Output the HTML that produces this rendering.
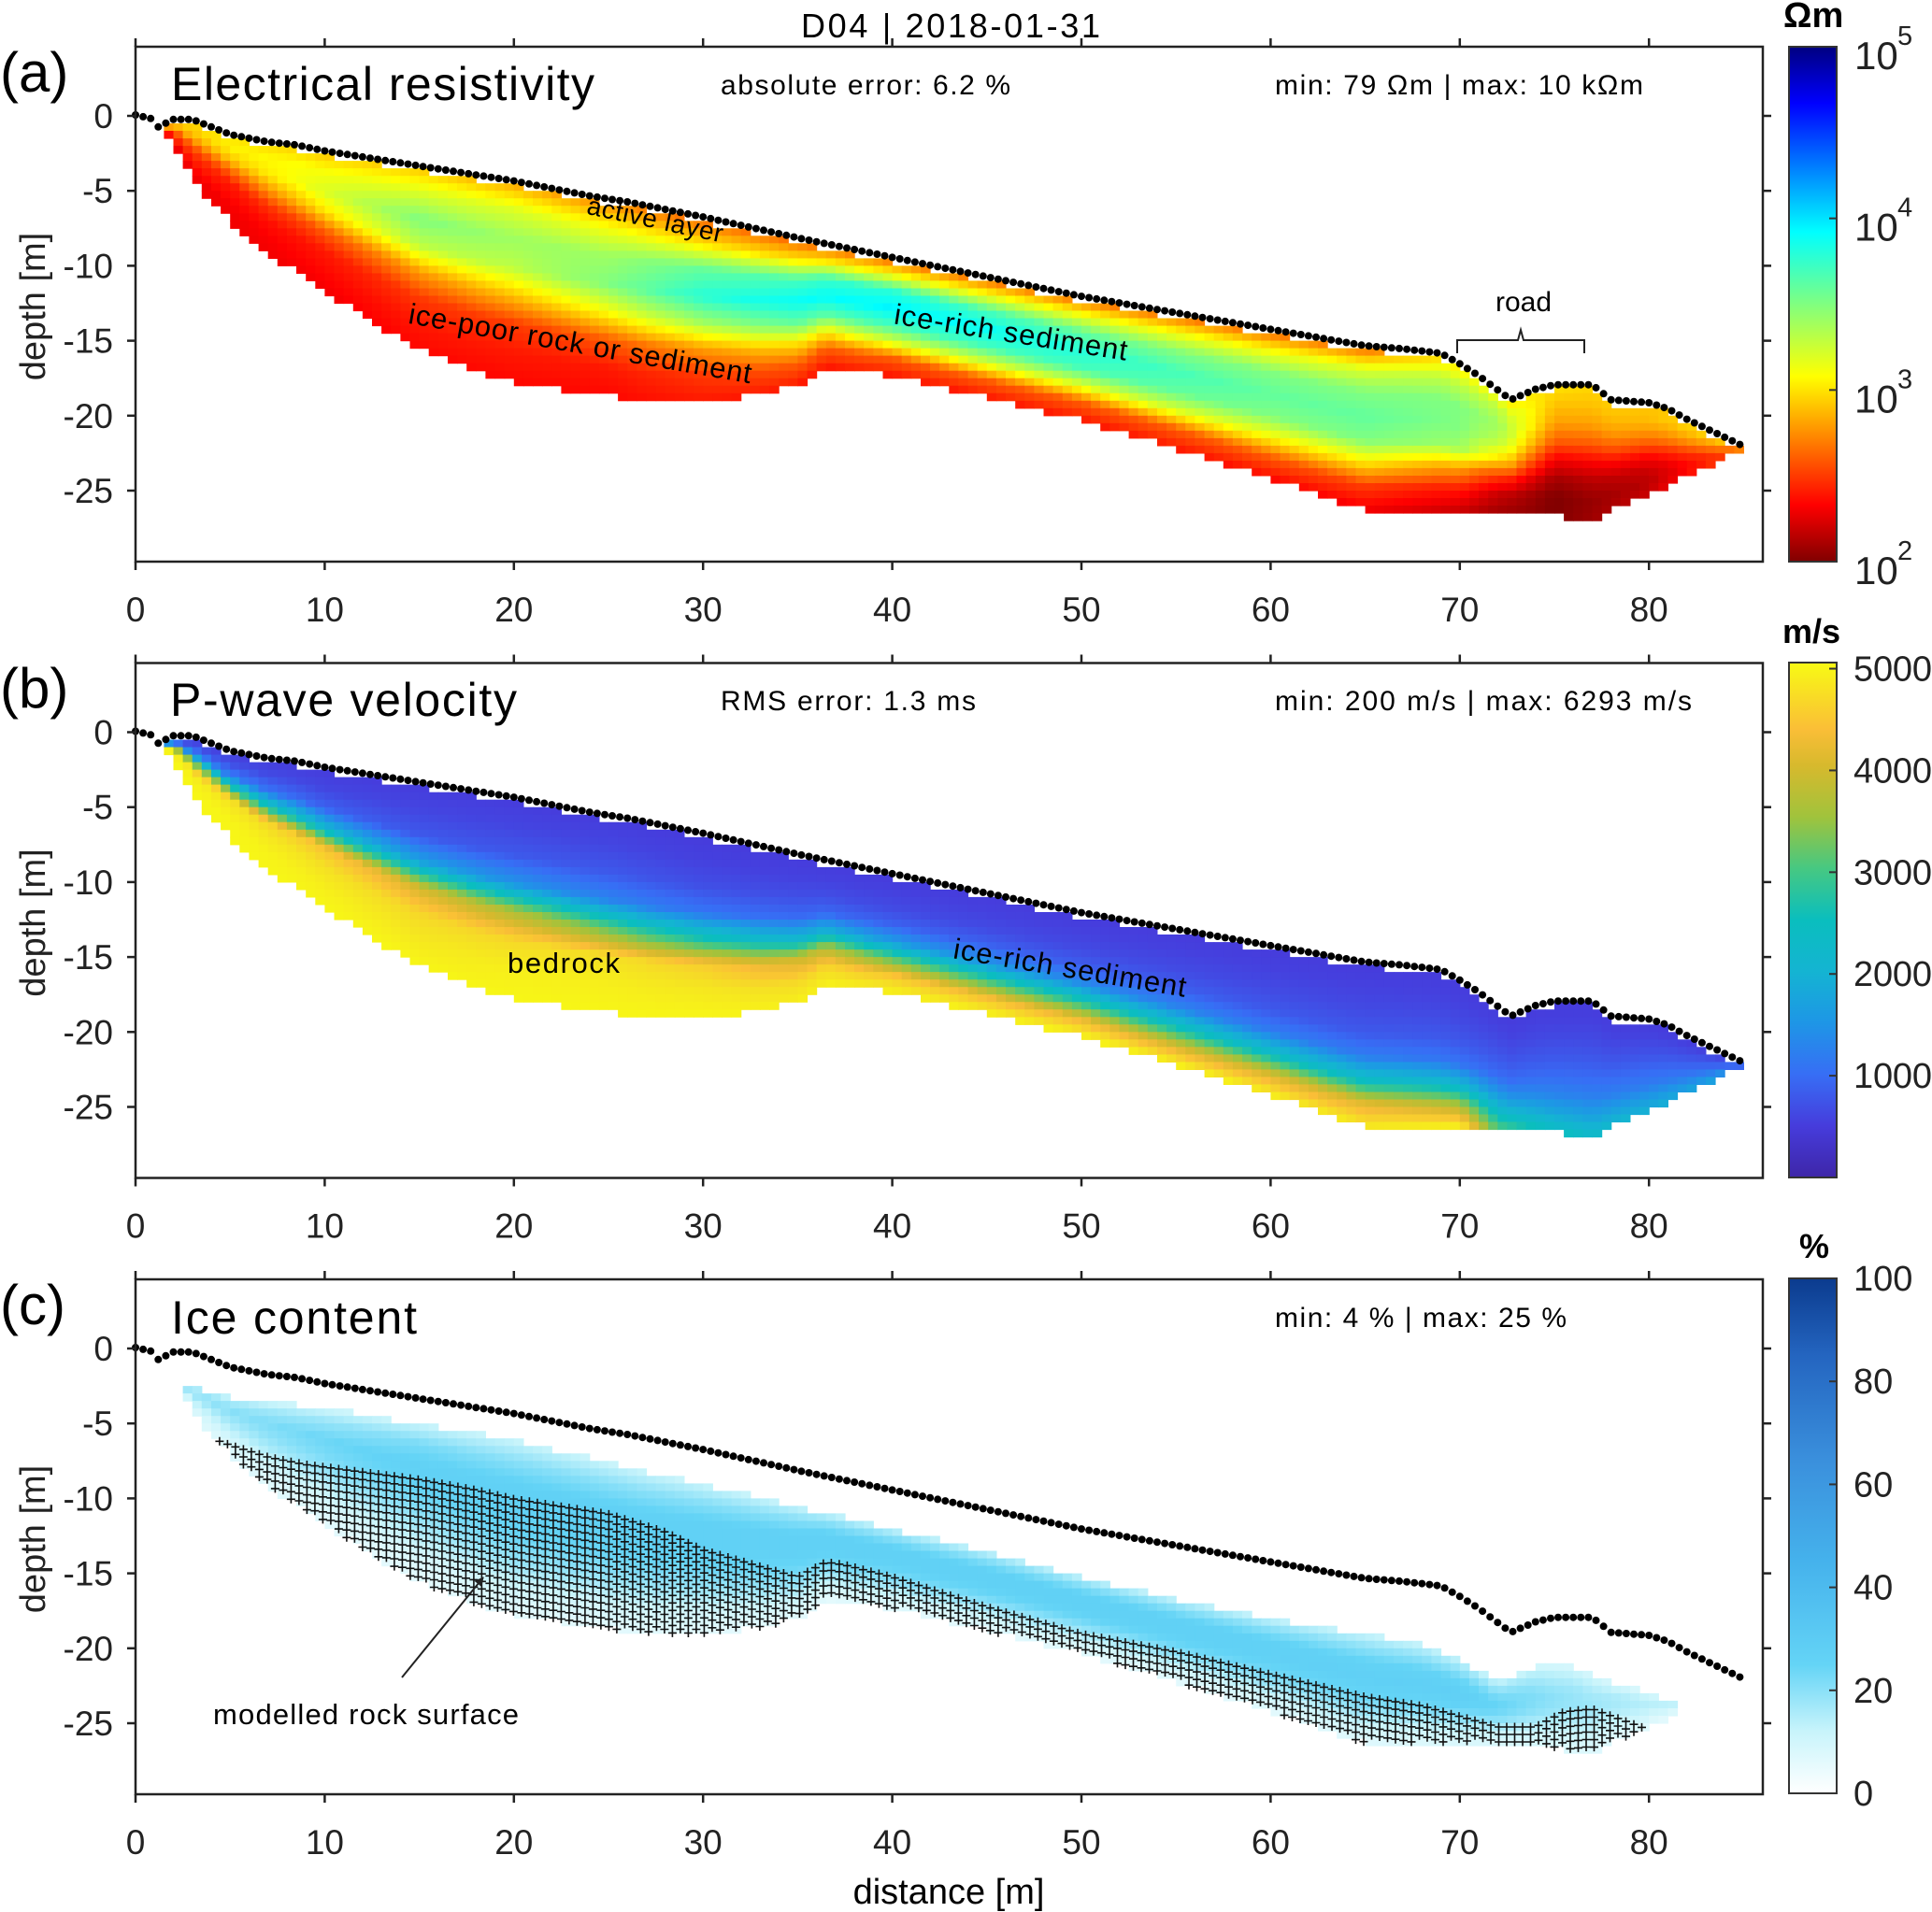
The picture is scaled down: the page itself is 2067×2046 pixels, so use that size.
<!DOCTYPE html>
<html><head><meta charset="utf-8">
<style>
html,body{margin:0;padding:0;background:#fff;}
svg{display:block;font-family:"Liberation Sans","DejaVu Sans",sans-serif;}
</style></head>
<body>
<svg id="fig" xmlns="http://www.w3.org/2000/svg" width="2067" height="2046" viewBox="0 0 2067 2046">
<rect x="0" y="0" width="2067" height="2046" fill="#fff"/>
<g id="cells"></g>
<g id="hatch"></g>
<g id="dots"></g>
<g id="axes"></g>
<defs>
 <linearGradient id="jet" x1="0" y1="1" x2="0" y2="0">
  <stop offset="0" stop-color="#800000"/><stop offset="0.11" stop-color="#ff0000"/>
  <stop offset="0.36" stop-color="#ffff00"/><stop offset="0.5" stop-color="#80ff80"/>
  <stop offset="0.64" stop-color="#00ffff"/><stop offset="0.89" stop-color="#0000ff"/>
  <stop offset="1" stop-color="#000080"/>
 </linearGradient>
 <linearGradient id="par" x1="0" y1="1" x2="0" y2="0">
  <stop offset="0" stop-color="rgb(62,38,168)"/><stop offset="0.1" stop-color="rgb(70,60,220)"/>
  <stop offset="0.2" stop-color="rgb(55,110,245)"/><stop offset="0.3" stop-color="rgb(30,150,230)"/>
  <stop offset="0.4" stop-color="rgb(20,180,210)"/><stop offset="0.5" stop-color="rgb(10,190,190)"/>
  <stop offset="0.6" stop-color="rgb(70,200,130)"/><stop offset="0.7" stop-color="rgb(160,195,60)"/>
  <stop offset="0.8" stop-color="rgb(215,185,45)"/><stop offset="0.87" stop-color="rgb(250,190,55)"/>
  <stop offset="1" stop-color="rgb(248,250,20)"/>
 </linearGradient>
 <linearGradient id="icecm" x1="0" y1="1" x2="0" y2="0">
  <stop offset="0" stop-color="#ffffff"/><stop offset="0.12" stop-color="#c8f4fb"/>
  <stop offset="0.25" stop-color="#64d4f6"/><stop offset="0.45" stop-color="#45b2ec"/>
  <stop offset="0.65" stop-color="#3a8fdc"/><stop offset="0.85" stop-color="#2465c0"/>
  <stop offset="1" stop-color="#0b3b8e"/>
 </linearGradient>
 <marker id="ah" markerWidth="10" markerHeight="10" refX="9" refY="5" orient="auto" markerUnits="userSpaceOnUse"><path d="M0,0 L10,5 L0,10 z" fill="#222"/></marker>
</defs>

<text x="857" y="40" font-size="36" textLength="320">D04 | 2018-01-31</text>

<text x="0" y="98" font-size="60">(a)</text>
<text x="183" y="107" font-size="50" textLength="453">Electrical resistivity</text>
<text x="771" y="101" font-size="30" textLength="310">absolute error: 6.2 %</text>
<text x="1364" y="101" font-size="30" textLength="394">min: 79 Ωm | max: 10 kΩm</text>
<text x="699" y="244" font-size="28" text-anchor="middle" textLength="148" transform="rotate(12 699 244)">active layer</text>
<text x="619" y="378" font-size="31" text-anchor="middle" textLength="372" transform="rotate(10 619 378)">ice-poor rock or sediment</text>
<text x="1080" y="366" font-size="31" text-anchor="middle" textLength="252" transform="rotate(9 1080 366)">ice-rich sediment</text>
<text x="1630" y="333" font-size="30" text-anchor="middle">road</text>
<path d="M1559,378 L1559,364 L1624,364 L1627,353 L1630,364 L1695,364 L1695,378" fill="none" stroke="#222" stroke-width="2"/>

<text x="0" y="757" font-size="60">(b)</text>
<text x="182" y="766" font-size="50" textLength="371">P-wave velocity</text>
<text x="771" y="760" font-size="30" textLength="273">RMS error: 1.3 ms</text>
<text x="1364" y="760" font-size="30" textLength="446">min: 200  m/s | max: 6293 m/s</text>
<text x="603" y="1041" font-size="31" text-anchor="middle" textLength="120">bedrock</text>
<text x="1143" y="1046" font-size="31" text-anchor="middle" textLength="252" transform="rotate(9.5 1143 1046)">ice-rich sediment</text>

<text x="0" y="1417" font-size="60">(c)</text>
<text x="183" y="1427" font-size="50" textLength="263">Ice content</text>
<text x="1364" y="1420" font-size="30" textLength="312">min: 4 % | max: 25 %</text>
<text x="228" y="1845" font-size="31" textLength="327">modelled rock surface</text>
<line x1="430" y1="1795" x2="517" y2="1688" stroke="#222" stroke-width="2" marker-end="url(#ah)"/>

<text x="1015" y="2037" font-size="38" text-anchor="middle">distance [m]</text>

<rect x="1914" y="50" width="51" height="551" fill="url(#jet)" stroke="#333" stroke-width="2"/>
<rect x="1914" y="709" width="51" height="551" fill="url(#par)" stroke="#333" stroke-width="2"/>
<rect x="1914" y="1368" width="51" height="551" fill="url(#icecm)" stroke="#333" stroke-width="2"/>
<text x="1908" y="29" font-size="38" font-weight="bold">Ωm</text>
<text x="1907" y="688" font-size="36" font-weight="bold">m/s</text>
<text x="1925" y="1346" font-size="36" font-weight="bold">%</text>
<g id="cbticks"></g>
</svg>

<script>
const topoX = [0,1,1.2,2,3,4,5,7,8.5,10,12,14,16,18,20,22,24,26,28,30,35,40,45,50,55,60,65,67,69,70,71,72.7,74,75,77,78,80,81,82,84,85];
const topoZ = [0,-0.3,-0.8,-0.3,-0.3,-0.8,-1.3,-1.8,-2.0,-2.4,-2.8,-3.2,-3.6,-4.0,-4.4,-4.9,-5.4,-5.8,-6.3,-6.8,-8.2,-9.5,-10.8,-12.1,-13.2,-14.3,-15.4,-15.6,-15.9,-16.6,-17.4,-19.0,-18.3,-18.0,-18.0,-19.0,-19.2,-19.6,-20.3,-21.5,-22.1];
const baseX = [1.5,2,2.5,3,5,7,10,12,15,18,20,25,27,30,33,35,36.5,38,40,45,50,55,60,63,65,70,72,76,77,78,80,82,84,85];
const baseZ = [-1.0,-2.0,-3.0,-4.3,-7.0,-9.2,-11.7,-13.3,-15.6,-17.0,-17.7,-18.7,-19.0,-19.0,-18.6,-18.0,-16.7,-17.0,-17.3,-18.8,-20.3,-22.2,-24.2,-25.5,-26.3,-26.3,-26.3,-26.8,-27.0,-26.3,-25.3,-24.0,-22.8,-22.2];

const resStations = [2,5,10,15,20,25,30,35,40,45,50,55,60,65,70,72,75,80,85];
const resLog = [
 [2.9,2.9,2.8,2.6,2.5,2.4,2.3,2.3],
 [3.0,3.05,2.9,2.6,2.4,2.35,2.3,2.3],
 [2.9,3.1,3.2,3.0,2.6,2.4,2.35,2.3],
 [2.9,3.2,3.5,3.3,2.8,2.5,2.4,2.35],
 [2.8,3.2,3.4,3.3,2.9,2.5,2.4,2.35],
 [2.7,3.1,3.4,3.5,3.1,2.6,2.4,2.35],
 [2.6,3.0,3.6,3.8,3.4,2.8,2.5,2.4],
 [2.6,3.0,3.7,3.9,3.6,3.0,2.6,2.4],
 [2.6,3.1,3.8,3.95,3.7,3.2,2.6,2.4],
 [2.6,3.1,3.7,3.9,3.7,3.2,2.6,2.4],
 [2.6,3.1,3.6,3.8,3.7,3.2,2.6,2.4],
 [2.6,3.1,3.5,3.7,3.6,3.2,2.6,2.4],
 [2.6,3.1,3.5,3.6,3.5,3.1,2.6,2.35],
 [2.6,3.2,3.5,3.6,3.5,3.0,2.5,2.3],
 [3.0,3.3,3.5,3.5,3.4,2.8,2.4,2.2],
 [3.0,3.3,3.4,3.3,3.0,2.5,2.2,2.1],
 [3.0,2.9,2.8,2.6,2.3,2.1,2.0,2.0],
 [2.9,2.9,2.8,2.6,2.35,2.2,2.15,2.2],
 [3.0,3.0,2.9,2.85,2.75,2.65,2.6,2.6]
];

const velStations = [2,5,10,15,20,25,30,35,40,45,50,55,60,65,70,72,75,80,85];
const velVals = [
 [500,700,1500,3600,4800,4950,5000,5000],
 [500,700,1200,2900,4700,4900,5000,5000],
 [500,600,900,2100,4400,4700,4900,5000],
 [500,600,800,1700,4000,4600,4800,5000],
 [500,600,800,1500,3700,4600,4900,5000],
 [500,600,800,1300,3200,4700,4900,5000],
 [500,550,700,1100,2600,4500,4800,5000],
 [500,550,700,1000,2100,4000,4600,4900],
 [500,550,650,900,1600,3100,4400,4900],
 [500,550,650,900,1500,2900,4300,4950],
 [500,550,650,850,1400,2700,4200,4950],
 [500,550,650,850,1300,2500,4000,4950],
 [500,550,650,800,1200,2300,4000,4900],
 [500,550,650,800,1200,2300,4100,4800],
 [500,550,650,800,1100,2100,3700,4900],
 [500,550,650,800,1000,1500,2200,3000],
 [500,550,650,800,1000,1300,1800,2500],
 [500,550,650,800,1000,1200,1600,2000],
 [500,550,650,800,900,1100,1300,1500]
];

const iceTopX = [1.8,2,5,10,15,20,27,30,35,40,45,50,55,60,65,68,70,72,73,74,76,78,80,83,84];
const iceTopZ = [-1.8,-2,-3,-3.7,-4.8,-5.8,-8,-8.8,-10.3,-11.8,-13.3,-15,-16.5,-17.8,-18.8,-19.5,-20.5,-22,-21.5,-21,-21,-22,-22.8,-24.2,-24.5];
const iceStations = [2,10,15,20,40,60,70,75,80,84];
const iceVals = [
 [8,15,18,15,12,10,8,8],
 [8,18,24,22,18,12,8,6],
 [10,22,27,25,20,14,8,6],
 [10,20,27,27,24,18,10,6],
 [10,20,27,27,24,18,10,6],
 [10,20,27,27,24,18,10,6],
 [10,18,25,28,26,20,12,8],
 [8,14,18,20,18,14,10,8],
 [6,10,14,14,12,10,8,6],
 [5,8,10,10,8,6,5,5]
];
const rockX = [3.5,5,7,9,12,15,18,20,23,25,28,30,33,35,36.5,37.5,40,45,50,55,60,65,68,70,72,74,75.5,77,78.5,80];
const rockZ = [-5.5,-6.2,-7.0,-7.5,-8.0,-8.5,-9.2,-9.8,-10.4,-10.8,-12.0,-13.2,-14.3,-15,-14,-14.2,-15,-17,-18.8,-20,-21.5,-23,-23.6,-24.3,-25,-25,-24,-23.8,-24.5,-25.2];

const xTicks = [0,10,20,30,40,50,60,70,80];
const yTicks = [0,-5,-10,-15,-20,-25];
const velTicks = [1000,2000,3000,4000,5000];
const iceTicks = [0,20,40,60,80,100];
const resTicks = [2,3,4,5];

const PANEL_DY = 659.5;
const X0 = 145, XS = 20.24;
function X(m){ return X0 + m*XS; }
function Y(d,p){ return 124 + p*PANEL_DY - d*16.04; }
const NS = 'http://www.w3.org/2000/svg';
function mk(tag, attrs, parent){
  const e = document.createElementNS(NS, tag);
  for (const k in attrs) e.setAttribute(k, attrs[k]);
  parent.appendChild(e); return e;
}
function interp(xs, ys, x){
  if (x <= xs[0]) return ys[0];
  if (x >= xs[xs.length-1]) return ys[ys.length-1];
  for (let i=0;i<xs.length-1;i++){
    if (x>=xs[i] && x<=xs[i+1]){ const f=(x-xs[i])/(xs[i+1]-xs[i]); return ys[i]+f*(ys[i+1]-ys[i]); }
  }
}
function levelAt(arr, t){
  const n = arr.length-1; const p = Math.max(0,Math.min(1,t))*n;
  const i = Math.min(n-1, Math.floor(p)); const f = p-i;
  return arr[i]+f*(arr[i+1]-arr[i]);
}
function fieldVal(st, tab, x, t){
  const col = st.map((s,i)=>levelAt(tab[i], t));
  return interp(st, col, x);
}
function lerpStops(stops, v){
  v = Math.max(0, Math.min(1, v));
  for (let i=0;i<stops.length-1;i++){
    if (v>=stops[i][0] && v<=stops[i+1][0]){
      const f=(v-stops[i][0])/(stops[i+1][0]-stops[i][0]);
      const a=stops[i][1], b=stops[i+1][1];
      return 'rgb('+[0,1,2].map(k=>Math.round(a[k]+f*(b[k]-a[k]))).join(',')+')';
    }
  }
  const l = stops[stops.length-1][1]; return 'rgb('+l.join(',')+')';
}
const JET = [[0,[128,0,0]],[0.11,[255,0,0]],[0.36,[255,255,0]],[0.5,[128,255,128]],[0.64,[0,255,255]],[0.89,[0,0,255]],[1,[0,0,128]]];
const PAR = [[0,[62,38,168]],[0.1,[70,60,220]],[0.2,[55,110,245]],[0.3,[30,150,230]],[0.4,[20,180,210]],[0.5,[10,190,190]],[0.6,[70,200,130]],[0.7,[160,195,60]],[0.8,[215,185,45]],[0.86,[250,190,55]],[0.93,[245,225,35]],[1,[248,250,20]]];
const ICE = [[0,[255,255,255]],[0.12,[200,244,251]],[0.25,[100,212,246]],[0.45,[69,178,236]],[0.65,[58,143,220]],[0.85,[36,101,192]],[1,[11,59,142]]];

const cellsG = document.getElementById('cells');
const CW = 0.5, CH = 0.5;
for (let p=0;p<3;p++){
  for (let xc=1.75; xc<85.1; xc+=CW){
    const top = (p===2) ? interp(iceTopX, iceTopZ, xc) : interp(topoX, topoZ, xc);
    const bot = interp(baseX, baseZ, xc);
    if (p===2 && (xc < 1.8 || xc > 84)) continue;
    const botEff = (p===2 && xc>80) ? Math.max(bot, -25) : bot;
    for (let d = Math.floor(top/CH)*CH; d > botEff - 0.01; d -= CH){
      const dc = d - CH/2;
      if (dc > top || dc < botEff) continue;
      const t = (top - dc) / Math.max(0.5, top - botEff);
      let col;
      if (p===0){ col = lerpStops(JET, (fieldVal(resStations, resLog, xc, t)-2)/3); }
      else if (p===1){ col = lerpStops(PAR, fieldVal(velStations, velVals, xc, t)/5060); }
      else { col = lerpStops(ICE, fieldVal(iceStations, iceVals, xc, t)/100); }
      const r = mk('rect', {x:(X(xc-CW/2)).toFixed(1), y:Y(d,p).toFixed(1), width:(CW*XS+0.6).toFixed(1), height:(CH*16.04+0.6).toFixed(1), fill:col}, cellsG);
      
      
    }
  }
}

const hatchG = document.getElementById('hatch');
let hp = '';
for (let xc=3.6; xc<=80; xc+=0.42){
  const rt = interp(rockX, rockZ, xc), bt = interp(baseX, baseZ, xc);
  for (let d=rt-0.25; d>bt; d-=0.5){
    const cx = X(xc), cy = Y(d,2);
    hp += 'M'+(cx-4.5).toFixed(1)+','+cy.toFixed(1)+'h9M'+cx.toFixed(1)+','+(cy-4.5).toFixed(1)+'v9';
  }
}
const hatchPath = mk('path', {d:hp, stroke:'#111', 'stroke-width':'1.6', fill:'none'}, hatchG);



const dotsG = document.getElementById('dots');
for (let p=0;p<3;p++){
  for (let xe=0; xe<=85.01; xe+=0.4){
    const c = mk('circle', {cx:X(xe).toFixed(1), cy:(Y(interp(topoX, topoZ, xe),p)-1).toFixed(1), r:'4', fill:'#000'}, dotsG);
    
    
  }
}

const axG = document.getElementById('axes');
for (let p=0;p<3;p++){
  const oy = p*PANEL_DY;
  const box = mk('rect', {x:145, y:50+oy, width:1741, height:551, fill:'none', stroke:'#222', 'stroke-width':'2.5'}, axG);
  
  
  xTicks.forEach(v=>{
    const x = X(v);
    const t1 = mk('line', {x1:x, x2:x, y1:50+oy, y2:41+oy, stroke:'#222','stroke-width':'2.5'}, axG);
    
    
    const t2 = mk('line', {x1:x, x2:x, y1:601+oy, y2:610+oy, stroke:'#222','stroke-width':'2.5'}, axG);
    
    
    const lb = mk('text', {x:x, y:665+oy, 'font-size':'37', 'text-anchor':'middle', fill:'#222'}, axG);
    lb.textContent = v;
    
    
  });
  yTicks.forEach(v=>{
    const y = Y(v,p);
    const t1 = mk('line', {x1:145, x2:136, y1:y, y2:y, stroke:'#222','stroke-width':'2.5'}, axG);
    
    
    const t2 = mk('line', {x1:1886, x2:1895, y1:y, y2:y, stroke:'#222','stroke-width':'2.5'}, axG);
    
    
    const lb = mk('text', {x:121, y:y+13, 'font-size':'37', 'text-anchor':'end', fill:'#222'}, axG);
    lb.textContent = v;
    
    
  });
  const yt = mk('text', {x:48, y:328+oy, 'font-size':'38', 'text-anchor':'middle', transform:'rotate(-90 48 '+(328+oy)+')', fill:'#222'}, axG);
  yt.textContent = 'depth [m]';
  
  
}

const cbG = document.getElementById('cbticks');
resTicks.forEach(v=>{
  const y = 601 - (v-2)/3*551;
  const tk = mk('line', {x1:1965, x2:1957, y1:y, y2:y, stroke:'#333','stroke-width':'2'}, cbG);
  
  
  const lb = mk('text', {x:1984, y:y+24, 'font-size':'42', fill:'#222'}, cbG);
  lb.textContent = '10';
  
  
  const ex = mk('text', {x:2030, y:y-2, 'font-size':'29', fill:'#222'}, cbG);
  ex.textContent = v;
  
  
});
velTicks.forEach(v=>{
  const y = 1260 - v/5060*551;
  const tk = mk('line', {x1:1965, x2:1957, y1:y, y2:y, stroke:'#333','stroke-width':'2'}, cbG);
  
  
  const lb = mk('text', {x:1983, y:y+13, 'font-size':'38', textLength:'84', fill:'#222'}, cbG);
  lb.textContent = v;
  
  
});
iceTicks.forEach(v=>{
  const y = 1919 - v/100*551;
  const tk = mk('line', {x1:1965, x2:1957, y1:y, y2:y, stroke:'#333','stroke-width':'2'}, cbG);
  
  
  const lb = mk('text', {x:1983, y:y+13, 'font-size':'38', fill:'#222'}, cbG);
  lb.textContent = v;
  
  
});
</script>
</body></html>
